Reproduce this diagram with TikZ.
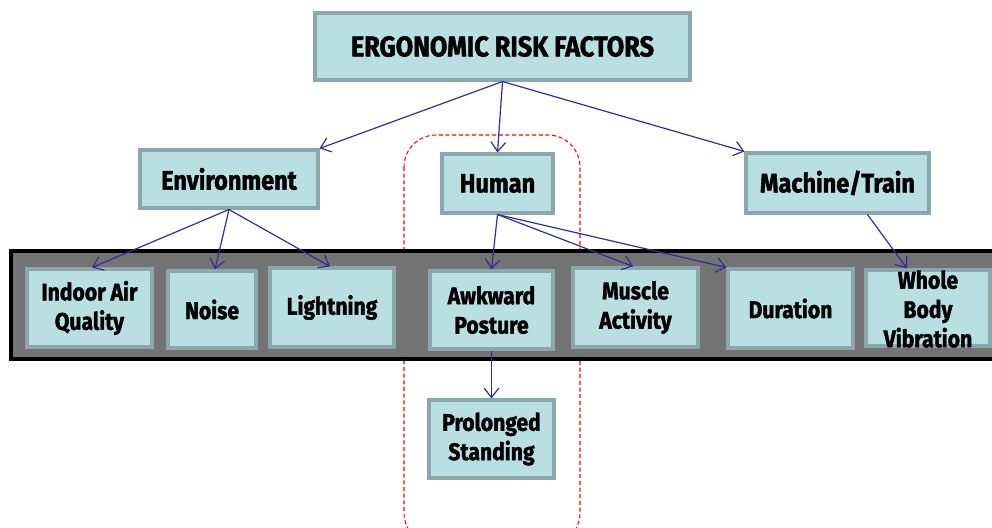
\documentclass[tikz,border=0pt]{standalone}
\usepackage{fontspec}
\setmainfont{Fira Sans}[FakeStretch=0.88,FakeBold=1.6]
\usetikzlibrary{arrows.meta,calc}
\definecolor{boxfill}{RGB}{185,223,227}
\definecolor{boxline}{RGB}{138,168,171}
\definecolor{bandfill}{RGB}{115,115,115}
\definecolor{arrowc}{RGB}{46,49,146}
\begin{document}
\begin{tikzpicture}[x=0.75pt,y=-0.75pt,
  sz/.style 2 args={minimum width=#1*0.75pt,minimum height=#2*0.75pt},
  box/.style={draw=boxline,fill=boxfill,line width=2.3pt,inner sep=0pt,align=center,font=\bfseries},
  toptext/.style={font=\bfseries\fontsize{21.5}{24}\selectfont},
  midtext/.style={font=\bfseries\fontsize{20}{22}\selectfont},
  leaftext/.style={font=\bfseries\fontsize{18}{22}\selectfont},
  conn/.style={draw=arrowc,line width=0.9pt,-{Straight Barb[length=7pt,width=11pt]}}]
\clip (0,0) rectangle (992,528);
% dashed group
\draw[red,line width=0.8pt,dash pattern=on 3pt off 2pt,rounded corners=24pt] (404,135) rectangle (580,545);
% band
\draw[fill=bandfill,draw=black,line width=3pt] (11,251) rectangle (1010,359);
% nodes
\node[box,toptext,sz={375}{67}] (top) at (502.5,46.5) {ERGONOMIC RISK FACTORS};
\node[box,midtext,sz={178}{58}] (env) at (229,179) {Environment};
\node[box,midtext,sz={111}{59}] (hum) at (497.5,183.5) {Human};
\node[box,midtext,sz={183}{60}] (mach) at (837.5,183) {Machine/Train};
\node[box,leaftext,sz={125}{78}] (iaq) at (89.5,308) {Indoor Air\\Quality};
\node[box,leaftext,sz={88}{77}] (noise) at (212,309.5) {Noise};
\node[box,leaftext,sz={124}{79}] (light) at (332,307.5) {Lightning};
\node[box,leaftext,sz={123}{78}] (awk) at (491.5,310) {Awkward\\Posture};
\node[box,leaftext,sz={125}{79}] (musc) at (635.5,307.5) {Muscle\\Activity};
\node[box,leaftext,sz={125}{79}] (dur) at (790.5,308.5) {Duration};
\node[box,sz={124}{76}] (wbv) at (928,308) {};
\node[leaftext,align=center,inner sep=0pt] (wbvt) at (928,309) {Whole\\Body\\Vibration};
\node[box,leaftext,sz={125}{78}] (prol) at (491.5,439) {Prolonged\\Standing};
% connectors
\draw[conn] (top.south) -- (env.north east);
\draw[conn] (top.south) -- (hum.north);
\draw[conn] (top.south) -- (mach.north west);
\draw[conn] (env.south) -- ($(iaq.north)+(2.5,0)$);
\draw[conn] (env.south) -- ($(noise.north)+(3,0)$);
\draw[conn] (env.south) -- ($(light.north)+(-2,0)$);
\draw[conn] (hum.south) -- (awk.north);
\draw[conn] (hum.south) -- ($(musc.north)+(-2.5,0)$);
\draw[conn] (hum.south) -- (dur.north west);
\draw[conn] ($(mach.south)+(30,0)$) -- ($(wbv.north)+(-21,0)$);
\draw[conn] (awk.south) -- (prol.north);
\end{tikzpicture}
\end{document}
